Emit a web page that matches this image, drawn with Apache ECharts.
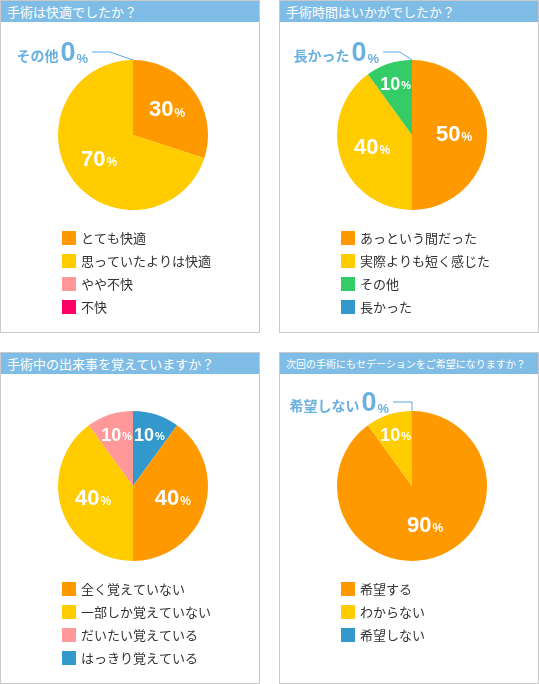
<!DOCTYPE html>
<html lang="ja">
<head>
<meta charset="utf-8">
<title>アンケート結果</title>
<script src="https://cdn.jsdelivr.net/npm/echarts@6.0.0/dist/echarts.min.js"></script>
<style>
  html, body { margin: 0; padding: 0; background: #fff; }
  body { width: 539px; height: 684px; position: relative; overflow: hidden; font-family: "Noto Sans CJK JP", sans-serif; }
  .panel { position: absolute; width: 260px; height: 333px; box-sizing: border-box; border: 1px solid #c9c9c9; }
  .panel .head { height: 21px; line-height: 21px; background: #7fbde6; color: #fff; font-size: 13px; padding-left: 6px; white-space: nowrap; }
  .panel .head.small { font-size: 10px; }
  .panel .chart { position: absolute; left: 0; top: 0; width: 258px; height: 331px; }
</style>
</head>
<body>
<div class="panel" style="left:0;top:0;">
  <div class="head">手術は快適でしたか？</div>
  <div class="chart" id="q1"></div>
</div>
<div class="panel" style="left:279px;top:0;">
  <div class="head">手術時間はいかがでしたか？</div>
  <div class="chart" id="q2"></div>
</div>
<div class="panel" style="left:0;top:352px;height:332px;">
  <div class="head">手術中の出来事を覚えていますか？</div>
  <div class="chart" id="q3"></div>
</div>
<div class="panel" style="left:279px;top:352px;height:332px;">
  <div class="head small">次回の手術にもセデーションをご希望になりますか？</div>
  <div class="chart" id="q4"></div>
</div>

<script>
// 色
const ORANGE = '#ff9900';
const YELLOW = '#ffcc00';
const PINK = '#ff9999';
const RED = '#ff0066';
const GREEN = '#33cc66';
const BLUE = '#3399cc';
const NOTE = '#6ab0e0';

// 手術は快適でしたか？
const q1Names = ['とても快適', '思っていたよりは快適', 'やや不快', '不快', 'その他'];
const q1Values = [30, 70, 0, 0, 0];
const q1Legend = ['とても快適', '思っていたよりは快適', 'やや不快', '不快'];
const q1Callout = 'その他';

// 手術時間はいかがでしたか？
const q2Names = ['あっという間だった', '実際よりも短く感じた', 'その他', '長かった'];
const q2Values = [50, 40, 10, 0];
const q2Legend = ['あっという間だった', '実際よりも短く感じた', 'その他', '長かった'];
const q2Callout = '長かった';

// 手術中の出来事を覚えていますか？
const q3Names = ['はっきり覚えている', '全く覚えていない', '一部しか覚えていない', 'だいたい覚えている'];
const q3Values = [10, 40, 40, 10];
const q3Legend = ['全く覚えていない', '一部しか覚えていない', 'だいたい覚えている', 'はっきり覚えている'];

// 次回の手術にもセデーションをご希望になりますか？
const q4Names = ['希望する', 'わからない', '希望しない'];
const q4Values = [90, 10, 0];
const q4Legend = ['希望する', 'わからない', '希望しない'];
const q4Callout = '希望しない';

const NUM_FONT = 'Arial, "Liberation Sans", sans-serif';
const JP_FONT = '"Noto Sans CJK JP", sans-serif';

function drawPie(id, names, values, colors, legendNames, callout, center, line) {
  const chart = echarts.init(document.getElementById(id));

  const option = {
    animation: false,
    legend: {
      data: legendNames,
      orient: 'vertical',
      left: 61,
      top: center[1] + 96,
      padding: 0,
      itemWidth: 14,
      itemHeight: 14,
      itemGap: 9,
      icon: 'rect',
      selectedMode: false,
      textStyle: { fontSize: 13, color: '#333', fontFamily: JP_FONT, lineHeight: 14 },
    },
    series: [
      {
        // 扇形と 0% の吹き出し
        type: 'pie',
        radius: [0, 75],
        center: center,
        startAngle: 90,
        clockwise: true,
        silent: true,
        avoidLabelOverlap: false,
        itemStyle: { borderWidth: 0 },
        data: names.map((n, i) => ({
          name: n,
          value: values[i],
          itemStyle: { color: colors[i] },
          label: { show: n === callout },
          labelLine: { show: n === callout },
        })),
        label: {
          position: 'outside',
          formatter: (p) => `{n|${p.name}}{v|${p.value}}{p|%}`,
          rich: {
            n: { fontSize: 14, fontWeight: 'bold', color: NOTE, fontFamily: JP_FONT, verticalAlign: 'bottom', padding: [0, 0, 5, 0] },
            v: { fontSize: 27, fontWeight: 'bold', color: NOTE, fontFamily: NUM_FONT, verticalAlign: 'bottom', padding: [0, 1, 0, 2] },
            p: { fontSize: 13, fontWeight: 'bold', color: NOTE, fontFamily: NUM_FONT, verticalAlign: 'bottom', padding: [0, 0, 2, 0] },
          },
        },
        labelLine: {
          length: 8,
          length2: 20,
          lineStyle: { color: '#5aa6dd', width: 1 },
        },
        // 吹き出しは常に左側へ
        labelLayout: (p) => {
          const pts = p.labelLinePoints;
          if (!pts || !line) return {};
          const e = pts[0];
          const p1 = [e[0] - line.dx, e[1] - line.l1];
          const p2 = [e[0] - line.l2, e[1] - line.l1];
          return {
            x: p2[0] - 4,
            y: p2[1] + 2,
            align: 'right',
            verticalAlign: 'middle',
            labelLinePoints: [e, p1, p2],
          };
        },
      },
      {
        // 内側の数値ラベル
        type: 'pie',
        radius: [0, 75],
        center: center,
        startAngle: 90,
        clockwise: true,
        silent: true,
        avoidLabelOverlap: false,
        itemStyle: { color: 'rgba(0,0,0,0)', borderWidth: 0 },
        data: names.map((n, i) => ({
          name: n,
          value: values[i],
          label: { show: values[i] > 0 },
        })),
        label: {
          position: 'inside',
          formatter: (p) => (p.value > 10 ? `{v|${p.value}}{p|%}` : `{vs|${p.value}}{ps|%}`),
          rich: {
            v: { fontSize: 22, fontWeight: 'bold', color: '#fff', fontFamily: NUM_FONT, verticalAlign: 'bottom', padding: [0, 1, 0, 0] },
            p: { fontSize: 12, fontWeight: 'bold', color: '#fff', fontFamily: NUM_FONT, verticalAlign: 'bottom', padding: [0, 0, 2, 0] },
            vs: { fontSize: 18, fontWeight: 'bold', color: '#fff', fontFamily: NUM_FONT, verticalAlign: 'bottom', padding: [0, 1, 0, 0] },
            ps: { fontSize: 11, fontWeight: 'bold', color: '#fff', fontFamily: NUM_FONT, verticalAlign: 'bottom', padding: [0, 0, 2, 0] },
          },
        },
        labelLine: { show: false },
        // 小さい扇形のラベルは外寄りに
        labelLayout: (p) => {
          const r = p.labelRect;
          const dx = r.x + r.width / 2 - center[0];
          const dy = r.y + r.height / 2 - center[1];
          const d = Math.hypot(dx, dy) || 1;
          const target = values[p.dataIndex] > 10 ? 42 : 53;
          return {
            x: center[0] + (dx / d) * target,
            y: center[1] + (dy / d) * target,
            align: 'center',
            verticalAlign: 'middle',
            hideOverlap: false,
          };
        },
      },
    ],
  };

  chart.setOption(option);
  return chart;
}

drawPie('q1', q1Names, q1Values, [ORANGE, YELLOW, PINK, RED, NOTE], q1Legend, q1Callout, [132, 134], { l1: 8, l2: 41, dx: 23 });
drawPie('q2', q2Names, q2Values, [ORANGE, YELLOW, GREEN, BLUE], q2Legend, q2Callout, [132, 134], { l1: 8, l2: 29, dx: 12 });
drawPie('q3', q3Names, q3Values, [BLUE, ORANGE, YELLOW, PINK], q3Legend, null, [132, 133], null);
drawPie('q4', q4Names, q4Values, [ORANGE, YELLOW, BLUE], q4Legend, q4Callout, [132, 133], { l1: 9, l2: 19, dx: 0 });
</script>
</body>
</html>
